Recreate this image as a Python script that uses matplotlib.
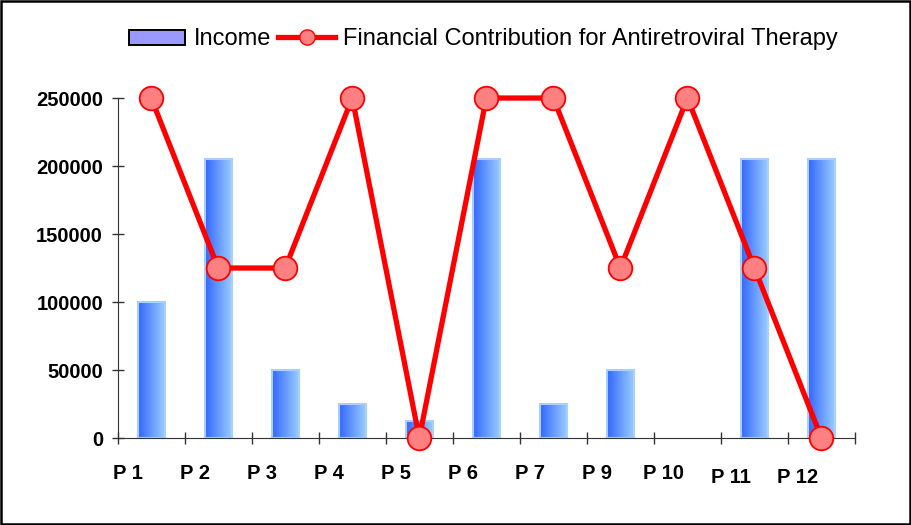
import numpy as np
import matplotlib
matplotlib.use("Agg")
import matplotlib.pyplot as plt
from matplotlib.lines import Line2D
from matplotlib.patches import Patch, Rectangle
from matplotlib.colors import LinearSegmentedColormap

plt.rcParams['font.family'] = ['Liberation Sans', 'DejaVu Sans']

categories = ["P 1", "P 2", "P 3", "P 4", "P 5", "P 6", "P 7", "P 9", "P 10", "P 11", "P 12"]
income = [100000, 205000, 50000, 25000, 12500, 205000, 25000, 50000, 0, 205000, 205000]
contribution = [250000, 125000, 125000, 250000, 0, 250000, 250000, 125000, 250000, 125000, 0]

# labels for P 11 / P 12 sit a little lower in the original
label_drop = [0, 0, 0, 0, 0, 0, 0, 0, 0, 4, 4]

fig = plt.figure(figsize=(9.12, 5.25), dpi=100)
ax = fig.add_axes([0.129, 0.1657, 0.8085, 0.6476])

x = np.arange(len(categories))
bars = ax.bar(x, income, width=0.40, color='#6699ff', edgecolor='#a8d0ff', linewidth=1.5, zorder=2)

grad_cmap = LinearSegmentedColormap.from_list("bluegrad", ['#3366ff', '#99ccff'])
grad = np.linspace(0, 1, 256).reshape(1, -1)
for b in bars:
    if b.get_height() <= 0:
        b.set_visible(False)
        continue
    x0, w, h = b.get_x(), b.get_width(), b.get_height()
    im = ax.imshow(grad, cmap=grad_cmap, extent=[x0, x0 + w, 0, h], aspect='auto', zorder=1.9)
    im.set_clip_path(b)
    b.set_facecolor('none')

ax.plot(x, contribution, color='#ff0000', linewidth=3.8, marker='o', markersize=17,
        markerfacecolor='#ff8080', markeredgecolor='#ff0000', markeredgewidth=1.3,
        zorder=4, clip_on=False)

ax.set_xlim(-0.5, len(categories) - 0.5)
ax.set_ylim(0, 250000)
ax.set_xticks(np.arange(-0.5, len(categories), 1.0))
ax.set_xticklabels([])
ax.set_yticks(np.arange(0, 250001, 50000))
ax.set_yticklabels([str(v) for v in range(0, 250001, 50000)], fontsize=14.5, fontweight='bold')
ax.tick_params(axis='both', direction='inout', length=9, width=1, color='#333333')
ax.tick_params(axis='y', pad=6)
for s in ['top', 'right']:
    ax.spines[s].set_visible(False)
ax.spines['left'].set_color('#333333')
ax.spines['bottom'].set_color('#333333')

for i, lab in enumerate(categories):
    ax.annotate(lab, (i - 0.35, 0), xycoords=('data', 'axes fraction'),
                xytext=(0, -35 - label_drop[i]), textcoords='offset pixels',
                ha='center', va='center', fontsize=14.5, fontweight='bold')

handles = [Patch(facecolor='#9999ff', edgecolor='black', linewidth=1.4),
           Line2D([0], [0], color='#ff0000', linewidth=3.8, marker='o', markersize=11,
                  markerfacecolor='#ff8080', markeredgecolor='#ff0000')]
fig.legend(handles, ["Income", "Financial Contribution for Antiretroviral Therapy"],
           loc='center', bbox_to_anchor=(0.530, 0.925), ncol=2, frameon=False,
           fontsize=17, handlelength=2.4, handleheight=0.6, columnspacing=0.3, handletextpad=0.35)

fig.patches.append(Rectangle((0.001, 0.001), 0.997, 0.997, transform=fig.transFigure,
                             fill=False, edgecolor='black', linewidth=1.8))

fig.savefig("out.png", dpi=100)
